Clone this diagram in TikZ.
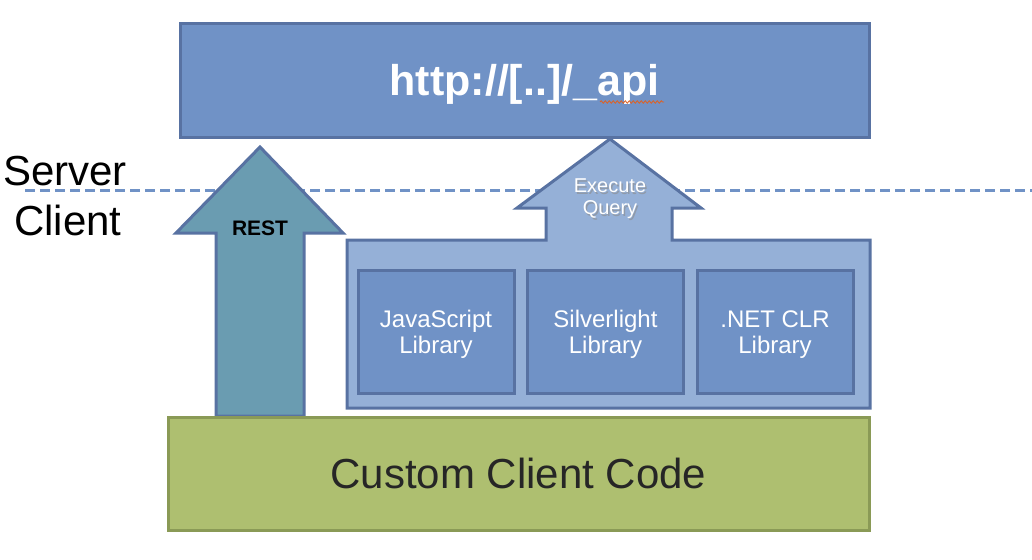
\documentclass[tikz,border=0pt]{standalone}
\usepackage{fontspec}
\setmainfont{Liberation Sans}
\usetikzlibrary{decorations.pathmorphing}
\definecolor{boxblue}{RGB}{112,146,198}
\definecolor{edgeblue}{RGB}{88,114,162}
\definecolor{paleblue}{RGB}{149,176,215}
\definecolor{restteal}{RGB}{106,156,177}
\definecolor{codegreen}{RGB}{174,191,112}
\definecolor{edgegreen}{RGB}{138,154,86}
\definecolor{textdark}{RGB}{38,38,38}
\definecolor{squig}{RGB}{224,96,32}
\newcommand{\lowered}[2]{\raisebox{-#1}[\height][\depth]{#2}}
\newcommand{\twolines}[2]{\begin{tabular}{@{}c@{}}#1\\#2\end{tabular}}
\tikzset{
  bluebox/.style={draw=edgeblue, line width=3pt, fill=boxblue, inner sep=0pt},
  libbox/.style={bluebox, minimum width=156pt, minimum height=123pt,
     text=white, font=\fontsize{24}{26}\selectfont},
  sidelabel/.style={anchor=base west, inner sep=0pt, font=\fontsize{42}{46}\selectfont},
}
\begin{document}
\begin{tikzpicture}[x=1pt,y=-1pt]
\useasboundingbox (0,0) rectangle (1032,559);
% dashed separator
\coordinate (dashL) at (25,190);
\coordinate (dashR) at (1032,190);
\draw[boxblue, line width=3pt, dash pattern=on 10pt off 5pt] (dashL) -- (dashR);
% side labels
\node[sidelabel] (server) at (3,185) {Server};
\node[sidelabel] (client) at (14,235) {Client};
% top API box
\node[bluebox, minimum width=689pt, minimum height=113pt, text=white,
      font=\bfseries\fontsize{43}{46}\selectfont] (api) at (524.5,80.5) {\lowered{4pt}{http://[..]/\_api}};
\draw[squig, line width=0.8pt, decorate, decoration={snake, amplitude=1.2pt, segment length=4pt}]
   (600,102) -- (664,102);
% REST arrow
\draw[draw=edgeblue, line width=3pt, fill=restteal, line join=miter]
  (216,416) -- (216,233) -- (176,233) -- (260,147) -- (343,233) -- (304,233) -- (304,416) -- cycle;
\node[font=\bfseries\fontsize{21}{24}\selectfont, text=black] (rest) at (260,228) {REST};
% container with Execute Query arrow
\draw[draw=edgeblue, line width=3pt, fill=paleblue, line join=miter]
  (347,240) -- (546,240) -- (546,208) -- (517,208) -- (610,139) -- (701,208) -- (672,208)
  -- (672,240) -- (870,240) -- (870,408) -- (347,408) -- cycle;
\node[align=center, text=black!45, opacity=0.6, font=\fontsize{20}{22}\selectfont] at (611.5,200.5) {Execute\\Query};
\node[align=center, text=white, font=\fontsize{20}{22}\selectfont] (exec) at (610,199) {Execute\\Query};
% library boxes
\node[libbox] (js) at (436,331.5) {\lowered{4pt}{\twolines{JavaScript}{Library}}};
\node[libbox] (sl) at (605.5,331.5) {\lowered{4pt}{\twolines{Silverlight}{Library}}};
\node[libbox] (net) at (775,331.5) {\lowered{4pt}{\twolines{.NET CLR}{Library}}};
% client code box
\node[draw=edgegreen, line width=3pt, fill=codegreen, minimum width=701pt, minimum height=113pt,
      text=textdark, font=\fontsize{42}{46}\selectfont] (code) at (518.5,473.5) {Custom Client Code};
\end{tikzpicture}
\end{document}
